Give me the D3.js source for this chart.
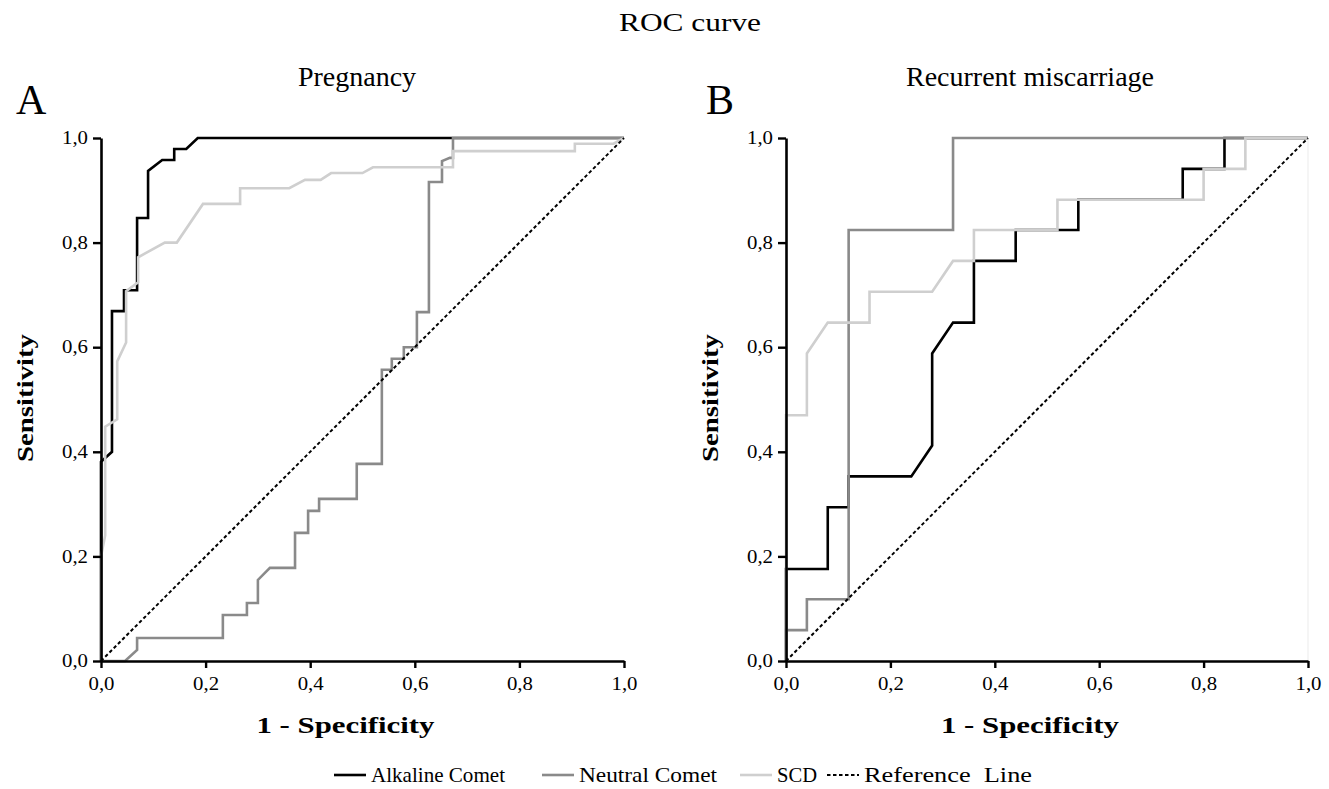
<!DOCTYPE html>
<html>
<head>
<meta charset="utf-8">
<script src="https://cdn.jsdelivr.net/npm/d3@7"></script>
<style>
  body { margin: 0; background: #fff; }
  svg text { font-family: "Liberation Serif", "DejaVu Serif", serif; fill: #000; }
</style>
</head>
<body>
<script>
// ROC points as [1 - specificity, sensitivity]
var alkalineA = [[0,0],[0,0.381],[0.021,0.40],[0.021,0.669],[0.044,0.669],[0.044,0.709],[0.069,0.709],
  [0.069,0.847],[0.09,0.847],[0.09,0.937],[0.117,0.958],[0.14,0.958],[0.14,0.979],[0.163,0.979],[0.185,1],[1,1]];
var neutralA = [[0,0],[0.046,0],[0.069,0.021],[0.069,0.044],[0.233,0.044],[0.233,0.088],[0.279,0.088],
  [0.279,0.111],[0.30,0.111],[0.30,0.155],[0.323,0.178],[0.371,0.178],[0.371,0.245],[0.396,0.245],
  [0.396,0.287],[0.417,0.287],[0.417,0.31],[0.489,0.31],[0.489,0.377],[0.537,0.377],[0.537,0.557],
  [0.556,0.557],[0.556,0.578],[0.579,0.578],[0.579,0.60],[0.604,0.60],[0.604,0.667],[0.627,0.667],
  [0.627,0.916],[0.652,0.916],[0.652,0.956],[0.667,0.962],[0.673,0.962],[0.673,1],[1,1]];
var scdA = [[0,0],[0,0.2],[0.008,0.24],[0.008,0.448],[0.031,0.462],[0.031,0.573],[0.048,0.609],
  [0.048,0.707],[0.071,0.724],[0.071,0.772],[0.122,0.80],[0.145,0.80],[0.195,0.874],[0.266,0.874],
  [0.266,0.904],[0.36,0.904],[0.39,0.92],[0.42,0.92],[0.44,0.933],[0.5,0.933],[0.52,0.944],
  [0.673,0.944],[0.673,0.975],[0.906,0.975],[0.906,0.989],[0.98,0.989],[1,1]];

var alkalineB = [[0,0],[0,0.176],[0.08,0.176],[0.08,0.294],[0.12,0.294],[0.12,0.353],[0.24,0.353],
  [0.28,0.412],[0.28,0.588],[0.32,0.647],[0.36,0.647],[0.36,0.765],[0.44,0.765],[0.44,0.824],
  [0.56,0.824],[0.56,0.882],[0.76,0.882],[0.76,0.941],[0.84,0.941],[0.84,1],[1,1]];
var neutralB = [[0,0],[0,0.059],[0.04,0.059],[0.04,0.118],[0.12,0.118],[0.12,0.824],[0.32,0.824],[0.32,1],[1,1]];
var scdB = [[0,0],[0,0.47],[0.04,0.47],[0.04,0.588],[0.08,0.647],[0.16,0.647],[0.16,0.706],[0.28,0.706],
  [0.32,0.765],[0.36,0.765],[0.36,0.824],[0.52,0.824],[0.52,0.882],[0.80,0.882],[0.80,0.941],
  [0.88,0.941],[0.88,1],[1,1]];

var refLine = [[0,0],[1,1]];
var ticks = [0, 0.2, 0.4, 0.6, 0.8, 1.0];
var seriesNames = ["Alkaline Comet", "Neutral Comet", "SCD", "Reference  Line"];
var seriesColors = ["#000000", "#8a8a8a", "#cfcfcf", "#000000"];

var svgWidth = 1329, svgHeight = 789;
var svg = d3.select('body').append('svg')
    .attr('width', svgWidth)
    .attr('height', svgHeight);

var locale = d3.formatLocale({decimal: ",", thousands: ".", grouping: [3], currency: ["", ""]});
var fmt = locale.format(".1f");

// the source font is wide, so stretch text to the widths seen in the figure
function wide(sel, w) {
  return sel.attr('textLength', w).attr('lengthAdjust', 'spacingAndGlyphs');
}

wide(svg.append('text').attr('x', 690).attr('y', 31).attr('text-anchor', 'middle')
    .style('font-size', '26px').text('ROC curve'), 142);

function panel(opt) {
  var x = d3.scaleLinear().domain([0, 1]).range([opt.left, opt.right]);
  var y = d3.scaleLinear().domain([0, 1]).range([661, 138]);
  var g = svg.append('g');

  if (opt.frame) {
    g.append('line').attr('x1', x(1)).attr('x2', x(1)).attr('y1', y(1)).attr('y2', y(0))
      .attr('stroke', '#f2f2f2').attr('stroke-width', 1.5);
  }

  var line = d3.line().x(function(d) { return x(d[0]); }).y(function(d) { return y(d[1]); });

  var curves = [opt.alk, opt.neu, opt.scd];
  curves.forEach(function(c, i) {
    g.append('path').datum(c).attr('d', line)
      .attr('fill', 'none').attr('stroke', seriesColors[i])
      .attr('stroke-width', 2.6).attr('stroke-linejoin', 'miter');
  });
  g.append('path').datum(refLine).attr('d', line)
    .attr('fill', 'none').attr('stroke', '#000').attr('stroke-width', 2)
    .attr('stroke-dasharray', '3.5,2.5');

  var xAxis = g.append('g').attr('transform', 'translate(0,' + y(0) + ')')
    .call(d3.axisBottom(x).tickValues(ticks).tickFormat(fmt).tickSize(7).tickSizeOuter(0).tickPadding(9));
  var yAxis = g.append('g').attr('transform', 'translate(' + x(0) + ',0)')
    .call(d3.axisLeft(y).tickValues(ticks).tickFormat(fmt).tickSize(8).tickSizeOuter(0).tickPadding(5));
  [xAxis, yAxis].forEach(function(a) {
    a.select('.domain').attr('stroke', '#000').attr('stroke-width', 2.6);
    a.selectAll('.tick line').attr('stroke', '#000').attr('stroke-width', 2.4);
    wide(a.selectAll('.tick text').style('font-size', '18px')
      .style('font-family', '"Liberation Serif", serif'), 26);
  });

  g.append('text').attr('x', opt.titleX).attr('y', 86).attr('text-anchor', 'middle')
    .style('font-size', '28px').text(opt.title);
  g.append('text').attr('x', opt.letterX).attr('y', 114)
    .style('font-size', '42px').text(opt.letter);
  wide(g.append('text').attr('transform', 'translate(' + opt.ylabX + ',398) rotate(-90)')
    .attr('text-anchor', 'middle').style('font-size', '23px').style('font-weight', 'bold')
    .text('Sensitivity'), 128);
  wide(g.append('text').attr('x', (opt.left + opt.right) / 2 - 17).attr('y', 733)
    .attr('text-anchor', 'middle').style('font-size', '24px').style('font-weight', 'bold')
    .text('1 - Specificity'), 178);
}

panel({left: 101, right: 624, alk: alkalineA, neu: neutralA, scd: scdA,
       title: 'Pregnancy', titleX: 357, letter: 'A', letterX: 16, ylabX: 33, frame: false});
panel({left: 786, right: 1308, alk: alkalineB, neu: neutralB, scd: scdB,
       title: 'Recurrent miscarriage', titleX: 1030, letter: 'B', letterX: 706, ylabX: 718, frame: true});

// legend
var legendX = [334, 542, 740, 827];
var legendW = [134, 138, 40, 168];
var legend = svg.append('g');
seriesNames.forEach(function(name, i) {
  legend.append('line').attr('x1', legendX[i]).attr('x2', legendX[i] + 32)
    .attr('y1', 775).attr('y2', 775)
    .attr('stroke', seriesColors[i]).attr('stroke-width', i == 3 ? 2 : 2.6)
    .attr('stroke-dasharray', i == 3 ? '3.5,2.5' : null);
  wide(legend.append('text').attr('x', legendX[i] + 37).attr('y', 782)
    .style('font-size', '22px').style('white-space', 'pre').text(name), legendW[i]);
});
</script>
</body>
</html>
